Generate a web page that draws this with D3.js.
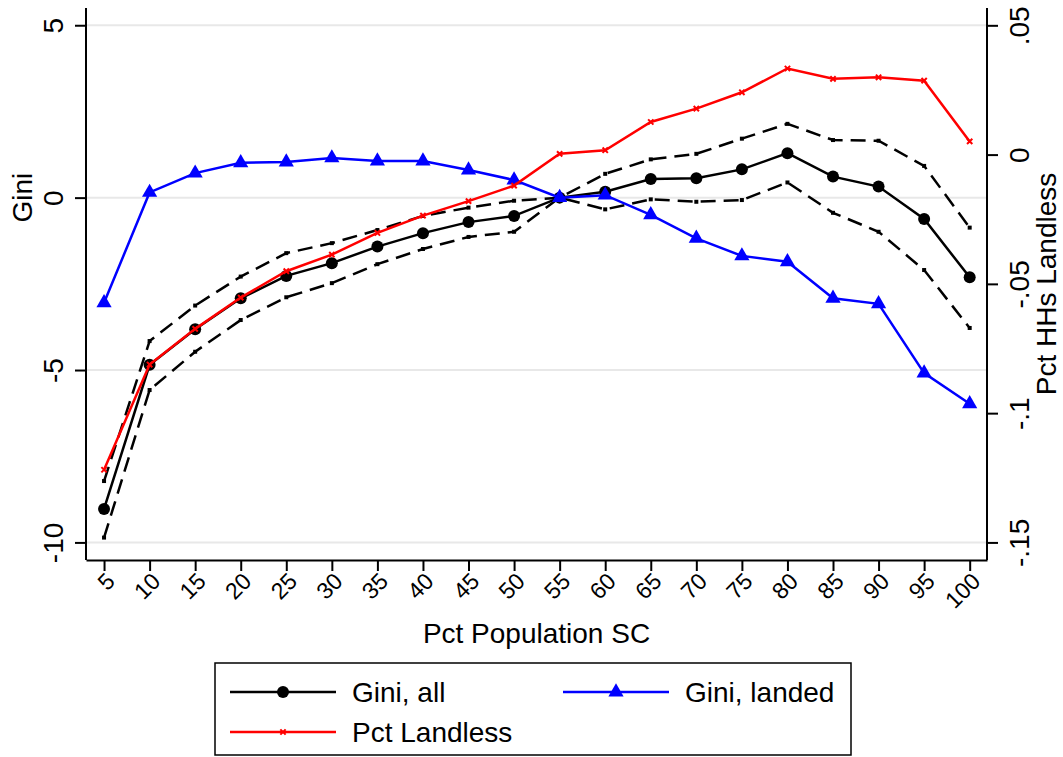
<!DOCTYPE html>
<html>
<head>
<meta charset="utf-8">
<script src="https://cdn.jsdelivr.net/npm/d3@7"></script>
<style>
  body { margin: 0; background: #fff; }
  svg text { font-family: "Liberation Sans", Arial, Helvetica, sans-serif; fill: #000; }
</style>
</head>
<body>
<div id="chart"></div>
<script>
// Data
var pctSC = [5, 10, 15, 20, 25, 30, 35, 40, 45, 50, 55, 60, 65, 70, 75, 80, 85, 90, 95, 100];
var giniAll = [-9.03, -4.85, -3.82, -2.92, -2.27, -1.90, -1.42, -1.03, -0.71, -0.53, 0.0, 0.17, 0.54, 0.56, 0.82, 1.29, 0.61, 0.32, -0.62, -2.31];
var giniUpper = [-8.22, -4.16, -3.13, -2.29, -1.61, -1.32, -0.94, -0.53, -0.29, -0.09, 0.0, 0.69, 1.11, 1.27, 1.71, 2.14, 1.67, 1.65, 0.92, -0.87];
var giniLower = [-9.86, -5.58, -4.47, -3.55, -2.89, -2.48, -1.93, -1.49, -1.14, -0.99, 0.0, -0.34, -0.05, -0.12, -0.07, 0.44, -0.44, -0.99, -2.10, -3.78];
var giniLanded = [-3.05, 0.15, 0.71, 1.01, 1.03, 1.15, 1.06, 1.06, 0.80, 0.51, 0.0, 0.07, -0.50, -1.18, -1.69, -1.86, -2.92, -3.08, -5.09, -5.98];
var pctLandless = [-0.1219, -0.0812, -0.0674, -0.0553, -0.0451, -0.0387, -0.0303, -0.0236, -0.0180, -0.0120, 0.0003, 0.0017, 0.0126, 0.0178, 0.0241, 0.0333, 0.0293, 0.0299, 0.0286, 0.0051];
var leftTicks = [-10, -5, 0, 5];
var rightTicks = [-0.15, -0.1, -0.05, 0, 0.05];
var rightTickLabels = ["-.15", "-.1", "-.05", "0", ".05"];

var W = 1063, H = 757;
var plot = { left: 86, right: 987, top: 8, bottom: 560 };

var svg = d3.select("#chart").append("svg")
  .attr("width", W)
  .attr("height", H);

// Scales
var x = d3.scaleLinear().domain([3.02, 101.9]).range([plot.left, plot.right]);
var y = d3.scaleLinear().domain([-10.51, 5.5]).range([plot.bottom, plot.top]);
var y2 = d3.scaleLinear().domain([-0.1568, 0.0567]).range([plot.bottom, plot.top]);

// Gridlines (left axis only)
svg.append("g").selectAll("line")
  .data(leftTicks)
  .enter().append("line")
  .attr("x1", plot.left).attr("x2", plot.right)
  .attr("y1", function(d) { return y(d); })
  .attr("y2", function(d) { return y(d); })
  .style("stroke", "#e8e8e8")
  .style("stroke-width", 2);

// Left axis
var gL = svg.append("g")
  .attr("transform", "translate(" + plot.left + ",0)")
  .call(d3.axisLeft(y).tickValues(leftTicks).tickSize(11).tickSizeOuter(0)
    .tickFormat(function(d) { return String(d); }));
gL.selectAll("text")
  .attr("transform", "translate(-23,0) rotate(-90)")
  .attr("x", 0).attr("y", 0).attr("dy", 0)
  .style("text-anchor", "middle")
  .style("font-size", "28px");

// Right axis
var gR = svg.append("g")
  .attr("transform", "translate(" + plot.right + ",0)")
  .call(d3.axisRight(y2).tickValues(rightTicks).tickSize(11).tickSizeOuter(0)
    .tickFormat(function(d, i) { return rightTickLabels[i]; }));
gR.selectAll("text")
  .attr("transform", "translate(42,0) rotate(-90)")
  .attr("x", 0).attr("y", 0).attr("dy", 0)
  .style("text-anchor", "middle")
  .style("font-size", "28px");

// Bottom axis
var gB = svg.append("g")
  .attr("transform", "translate(0," + plot.bottom + ")")
  .call(d3.axisBottom(x).tickValues(pctSC).tickSize(11).tickSizeOuter(0)
    .tickFormat(function(d) { return String(d); }));
gB.selectAll("text")
  .attr("transform", "translate(6,17) rotate(-45)")
  .attr("x", 0).attr("y", 0).attr("dy", "0.35em")
  .style("text-anchor", "end")
  .style("font-size", "23px");

[gL, gR, gB].forEach(function(g) {
  g.select(".domain").style("stroke", "#000").style("stroke-width", 2);
  g.selectAll(".tick line").style("stroke", "#000").style("stroke-width", 2);
});
// extend left/right axis lines to the bottom axis
gL.select(".domain").attr("d", "M0," + plot.top + "V" + plot.bottom);
gR.select(".domain").attr("d", "M0," + plot.top + "V" + plot.bottom);

// Axis titles
svg.append("text")
  .attr("transform", "translate(32," + y(0) + ") rotate(-90)")
  .style("text-anchor", "middle")
  .style("font-size", "28px")
  .text("Gini");

svg.append("text")
  .attr("transform", "translate(1056," + ((plot.top + plot.bottom) / 2) + ") rotate(-90)")
  .style("text-anchor", "middle")
  .style("font-size", "28px")
  .text("Pct HHs Landless");

svg.append("text")
  .attr("x", (plot.left + plot.right) / 2)
  .attr("y", 643)
  .style("text-anchor", "middle")
  .style("font-size", "28px")
  .text("Pct Population SC");

// Lines
var lineL = d3.line()
  .x(function(d, i) { return x(pctSC[i]); })
  .y(function(d) { return y(d); });
var lineR = d3.line()
  .x(function(d, i) { return x(pctSC[i]); })
  .y(function(d) { return y2(d); });

// confidence bands (dashed)
[giniUpper, giniLower].forEach(function(s, k) {
  svg.append("path")
    .datum(s)
    .attr("d", lineL)
    .style("fill", "none")
    .style("stroke", "#000")
    .style("stroke-width", 2.5)
    .style("stroke-dasharray", "15,8");
  svg.append("g").selectAll("rect")
    .data(s)
    .enter().append("rect")
    .attr("x", function(d, i) { return x(pctSC[i]) - 2; })
    .attr("y", function(d) { return y(d) - 2; })
    .attr("width", 4).attr("height", 4)
    .style("fill", "#000");
});

// Gini, all
svg.append("path")
  .datum(giniAll)
  .attr("d", lineL)
  .style("fill", "none")
  .style("stroke", "#000")
  .style("stroke-width", 2.5);
svg.append("g").selectAll("circle")
  .data(giniAll)
  .enter().append("circle")
  .attr("cx", function(d, i) { return x(pctSC[i]); })
  .attr("cy", function(d) { return y(d); })
  .attr("r", 6)
  .style("fill", "#000");

// Gini, landed
svg.append("path")
  .datum(giniLanded)
  .attr("d", lineL)
  .style("fill", "none")
  .style("stroke", "#0000ff")
  .style("stroke-width", 2.5);
var tri = d3.symbol().type(d3.symbolTriangle).size(100);
svg.append("g").selectAll("path")
  .data(giniLanded)
  .enter().append("path")
  .attr("d", tri)
  .attr("transform", function(d, i) { return "translate(" + x(pctSC[i]) + "," + y(d) + ")"; })
  .style("fill", "#0000ff");

// Pct Landless (right axis)
svg.append("path")
  .datum(pctLandless)
  .attr("d", lineR)
  .style("fill", "none")
  .style("stroke", "#ff0000")
  .style("stroke-width", 2.5);
var cross = d3.symbol().type(d3.symbolX).size(20);
svg.append("g").selectAll("path")
  .data(pctLandless)
  .enter().append("path")
  .attr("d", cross)
  .attr("transform", function(d, i) { return "translate(" + x(pctSC[i]) + "," + y2(d) + ")"; })
  .style("fill", "none")
  .style("stroke", "#ff0000")
  .style("stroke-width", 2);

// Legend
var legend = svg.append("g");
legend.append("rect")
  .attr("x", 215).attr("y", 663)
  .attr("width", 636).attr("height", 92)
  .style("fill", "#fff")
  .style("stroke", "#000")
  .style("stroke-width", 1.5);

var legendItems = [
  { name: "Gini, all", color: "#000", marker: "circle", lx: 230, ly: 692 },
  { name: "Gini, landed", color: "#0000ff", marker: "triangle", lx: 563, ly: 692 },
  { name: "Pct Landless", color: "#ff0000", marker: "x", lx: 230, ly: 732 }
];
legendItems.forEach(function(d) {
  legend.append("line")
    .attr("x1", d.lx).attr("x2", d.lx + 106)
    .attr("y1", d.ly).attr("y2", d.ly)
    .style("stroke", d.color)
    .style("stroke-width", 2.5);
  var mx = d.lx + 53;
  if (d.marker === "circle") {
    legend.append("circle").attr("cx", mx).attr("cy", d.ly).attr("r", 6).style("fill", d.color);
  } else if (d.marker === "triangle") {
    legend.append("path").attr("d", tri).attr("transform", "translate(" + mx + "," + d.ly + ")").style("fill", d.color);
  } else {
    legend.append("path").attr("d", cross).attr("transform", "translate(" + mx + "," + d.ly + ")")
      .style("fill", "none").style("stroke", d.color).style("stroke-width", 2);
  }
  legend.append("text")
    .attr("x", d.lx + 122)
    .attr("y", d.ly)
    .attr("dy", "0.35em")
    .style("font-size", "28px")
    .text(d.name);
});
</script>
</body>
</html>
